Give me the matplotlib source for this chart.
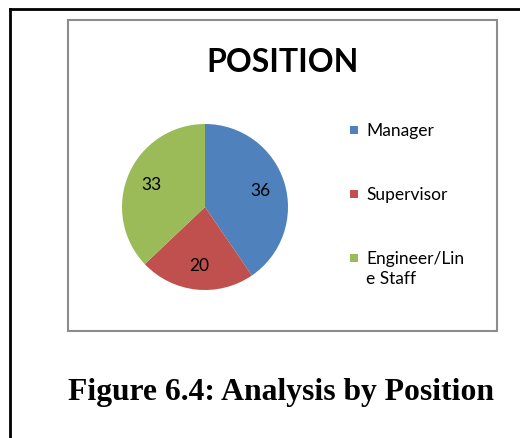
import matplotlib.pyplot as plt
from matplotlib.patches import Rectangle
from matplotlib.lines import Line2D

# data
positions = ['Manager', 'Supervisor', 'Engineer/Lin\ne Staff']
counts = [36, 20, 33]
colors = ['#4F81BD', '#C0504D', '#9BBB59']

W, H = 520, 439
fig = plt.figure(figsize=(W / 100, H / 100), dpi=100)
fig.patch.set_facecolor('white')

def fx(px):
    return px / W

def fy(py):
    return 1 - py / H

# outer page borders (top + left of table cell)
fig.add_artist(Line2D([fx(10), fx(520)], [fy(10), fy(10)], color='black', lw=2))
fig.add_artist(Line2D([fx(10), fx(10)], [fy(10), fy(439)], color='black', lw=2))

# chart box
fig.add_artist(Rectangle((fx(68), fy(332)), fx(497) - fx(68), fy(21) - fy(332),
                         fill=False, edgecolor='#8c8c8c', lw=1.5))

fig.text(fx(283), fy(63), 'POSITION', ha='center', va='center',
         fontsize=23, fontweight='bold', family='Lato')

# pie
ax = fig.add_axes([fx(122), fy(291), fx(288) - fx(122), fy(125) - fy(291)])
total = sum(counts)
wedges, texts, autotexts = ax.pie(counts, colors=colors, startangle=90, counterclock=False,
                                  autopct=lambda p: '%d' % round(p * total / 100),
                                  pctdistance=0.7,
                                  textprops={'fontsize': 12.5, 'family': 'Lato'})
ax.set_xlim(-1, 1)
ax.set_ylim(-1, 1)
ax.set_aspect('equal')
ax.axis('off')

# legend, drawn by hand so the square sits on the first line
for i, (lab, c) in enumerate(zip(positions, colors)):
    ytop = 131 + i * 64
    fig.add_artist(Rectangle((fx(350), fy(ytop + 4)), fx(8), fy(0) - fy(8),
                             facecolor=c, edgecolor='none'))
    fig.text(fx(366), fy(ytop - 8), lab, ha='left', va='top', fontsize=12.5,
             family='Lato', linespacing=1.3)

fig.text(fx(281), fy(393), 'Figure 6.4: Analysis by Position', ha='center', va='center',
         fontsize=22.8, fontweight='bold', family='Liberation Serif')

fig.savefig('out.png', dpi=100)
